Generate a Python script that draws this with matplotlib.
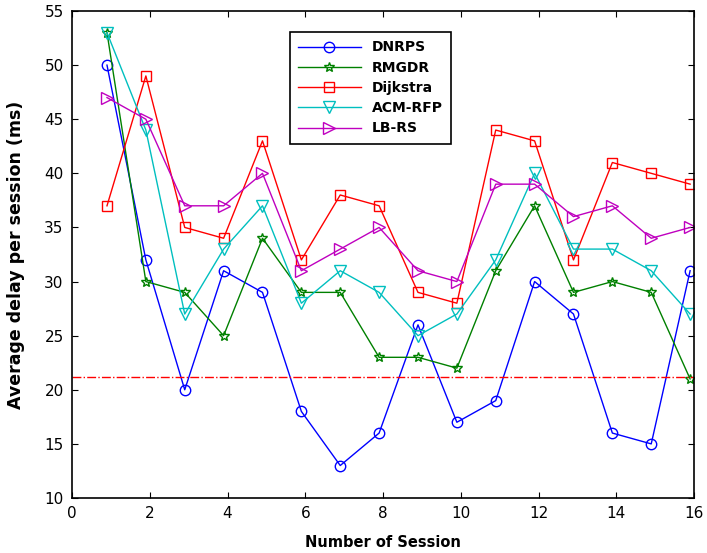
import matplotlib
matplotlib.use('Agg')
from matplotlib import pyplot as plt

sessions = [0.9, 1.9, 2.9, 3.9, 4.9, 5.9, 6.9, 7.9, 8.9, 9.9, 10.9, 11.9, 12.9, 13.9, 14.9, 15.9]
dnrps = [50, 32, 20, 31, 29, 18, 13, 16, 26, 17, 19, 30, 27, 16, 15, 31]
rmgdr = [53, 30, 29, 25, 34, 29, 29, 23, 23, 22, 31, 37, 29, 30, 29, 21]
dijkstra = [37, 49, 35, 34, 43, 32, 38, 37, 29, 28, 44, 43, 32, 41, 40, 39]
acm_rfp = [53, 44, 27, 33, 37, 28, 31, 29, 25, 27, 32, 40, 33, 33, 31, 27]
lb_rs = [47, 45, 37, 37, 40, 31, 33, 35, 31, 30, 39, 39, 36, 37, 34, 35]
threshold = 21.2

fig = plt.figure(figsize=(7.07, 5.53), dpi=100)
ax = fig.add_axes([72/707, 55/553, 622/707, 487/553])

ms = 7.5
ax.plot(sessions, dnrps, color='#0000ff', marker='o', ms=ms, mfc='none', lw=1, label='DNRPS')
ax.plot(sessions, rmgdr, color='#008000', marker='*', ms=ms, mfc='none', lw=1, label='RMGDR')
ax.plot(sessions, dijkstra, color='#ff0000', marker='s', ms=ms, mfc='none', lw=1, label='Dijkstra')
ax.plot(sessions, acm_rfp, color='#00bfbf', marker='v', ms=ms + 1.5, mfc='none', lw=1, label='ACM-RFP')
ax.plot(sessions, lb_rs, color='#bf00bf', marker='>', ms=ms + 1.5, mfc='none', lw=1, label='LB-RS')
ax.axhline(threshold, color='#ff0000', ls='-.', lw=1)

ax.set_xlim(0, 16)
ax.set_ylim(10, 55)
ax.set_xticks(range(0, 17, 2))
ax.set_yticks(range(10, 56, 5))
ax.tick_params(direction='in', top=True, right=True, labelsize=11, length=4, pad=6)
for s in ax.spines.values():
    s.set_linewidth(1.2)

ax.set_xlabel('Number of Session', fontsize=10.5, fontweight='bold', labelpad=10)
ax.set_ylabel('Average delay per session (ms)', fontsize=12.5, fontweight='bold', labelpad=14)

leg = ax.legend(loc='upper left', bbox_to_anchor=(0.339, 0.971), fancybox=False,
                edgecolor='black', framealpha=1, handlelength=4.5, borderpad=0.6,
                labelspacing=0.45, prop={'weight': 'bold', 'size': 10})
leg.get_frame().set_linewidth(1.2)

plt.savefig('out.png', dpi=100)
